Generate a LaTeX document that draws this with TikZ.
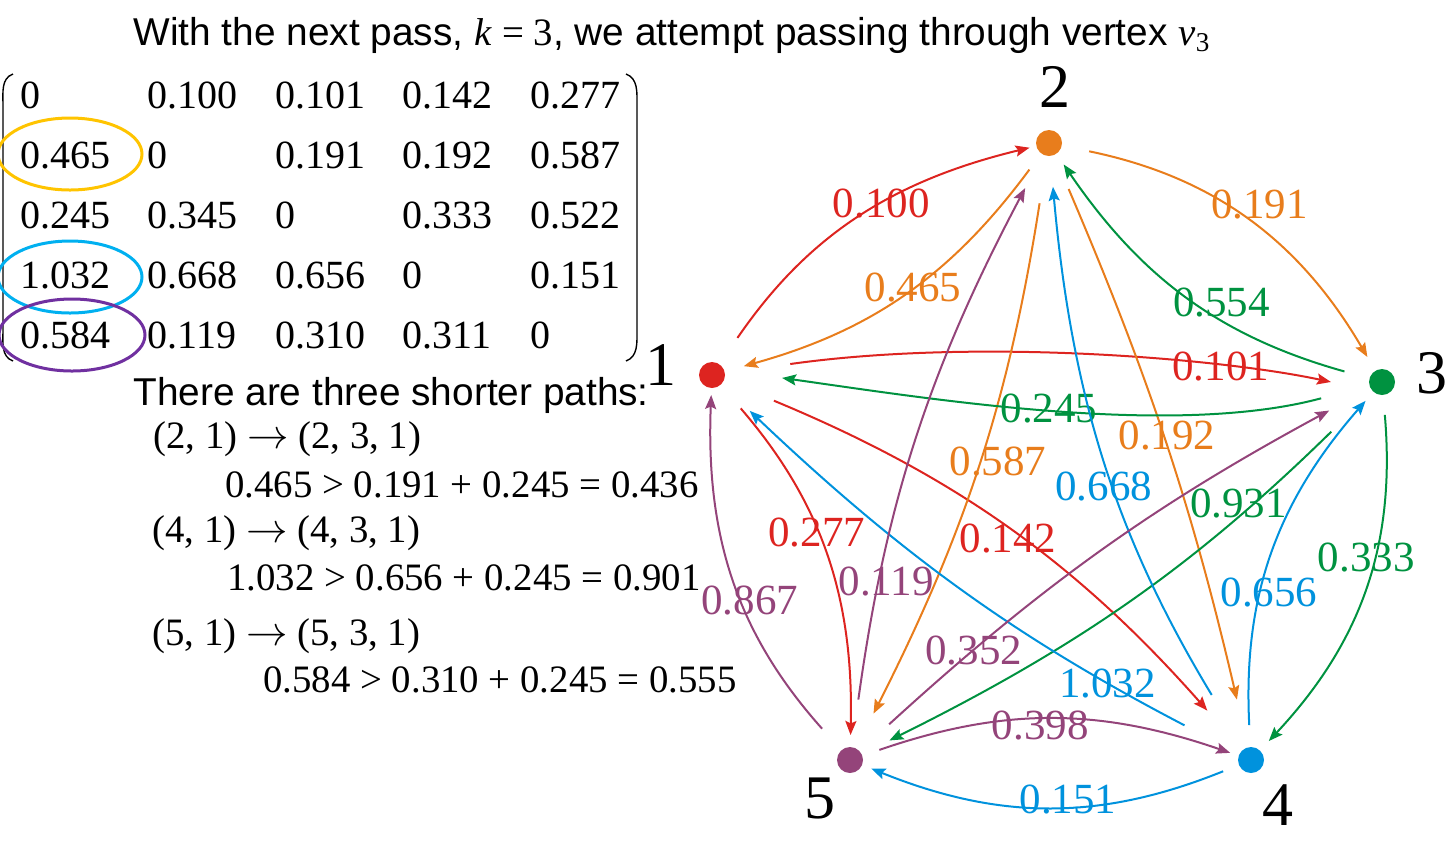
\documentclass[tikz,border=0pt]{standalone}
\usepackage{fontspec}
\setmainfont{Liberation Serif}
\setsansfont{Liberation Sans}
\usepackage{xcolor}
\usepackage{tikz}
\usetikzlibrary{arrows.meta}
\definecolor{cR}{RGB}{221,36,32}
\definecolor{cO}{RGB}{232,125,28}
\definecolor{cG}{RGB}{0,146,64}
\definecolor{cB}{RGB}{0,146,221}
\definecolor{cP}{RGB}{148,68,122}
\definecolor{ringY}{RGB}{255,196,0}
\definecolor{ringB}{RGB}{0,176,240}
\definecolor{ringP}{RGB}{112,48,160}
\begin{document}
\begin{tikzpicture}[
  x=0.5pt, y=0.5pt,
  vtx/.style={circle, minimum size=13pt, inner sep=0pt, outer sep=3.5pt},
  num/.style={anchor=base, inner sep=0pt, font=\fontsize{31}{34}\selectfont},
  entry/.style={anchor=base west, inner sep=0pt, font=\fontsize{20}{24}\selectfont},
  txt/.style={anchor=base west, inner sep=0pt, font=\fontsize{19.4}{23}\selectfont},
  head/.style={anchor=base west, inner sep=0pt, font=\sffamily\fontsize{19.4}{23}\selectfont},
  ring/.style={line width=1.5pt},
  paren/.style={line width=0.7pt},
  arr/.style={-{Stealth[length=7pt, width=5.5pt, inset=1.2pt]}, line width=1pt},
  wt/.style={inner sep=0pt, font=\fontsize{21.5}{24}\selectfont}
]
\useasboundingbox (0,0) rectangle (1456,-848);

\node[head] (title) at (133,-45) {With the next pass, {\rmfamily\itshape k} {\rmfamily= 3}, we attempt passing through vertex {\rmfamily\itshape v}\textsubscript{\rmfamily 3}};

% distance matrix
\foreach \row [count=\i] in {{0,0.100,0.101,0.142,0.277},{0.465,0,0.191,0.192,0.587},{0.245,0.345,0,0.333,0.522},{1.032,0.668,0.656,0,0.151},{0.584,0.119,0.310,0.311,0}} {
  \foreach \val [count=\j] in \row
    \node[entry] (m\i\j) at ({20+127.5*(\j-1)}, {-108-60*(\i-1)}) {\val};
}
\draw[paren] (13,-74) to[out=200, in=90] (3,-105) -- (3,-330) to[out=-90, in=160] (13,-361);
\draw[paren] (626,-74) to[out=-20, in=90] (637,-105) -- (637,-330) to[out=-90, in=20] (626,-361);
\draw[ring, ringY] (70,-154) ellipse [x radius=36pt, y radius=18pt];
\draw[ring, ringB] (70,-277) ellipse [x radius=36pt, y radius=18pt];
\draw[ring, ringP] (72,-335) ellipse [x radius=36.5pt, y radius=18pt];

\node[head] (paths) at (133,-405) {There are three shorter paths:};
\node[txt] (p1) at (153,-448) {(2, 1) $\rightarrow$ (2, 3, 1)};
\node[txt] (q1) at (225,-497) {0.465 > 0.191 + 0.245 = 0.436};
\node[txt] (p2) at (152,-542) {(4, 1) $\rightarrow$ (4, 3, 1)};
\node[txt] (q2) at (227,-590) {1.032 > 0.656 + 0.245 = 0.901};
\node[txt] (p3) at (152,-645) {(5, 1) $\rightarrow$ (5, 3, 1)};
\node[txt] (q3) at (263,-692) {0.584 > 0.310 + 0.245 = 0.555};

% graph
\node[vtx, fill=cR] (v1) at (712,-375) {};
\node[vtx, fill=cO] (v2) at (1049,-143) {};
\node[vtx, fill=cG] (v3) at (1382,-382) {};
\node[vtx, fill=cB] (v4) at (1251,-760) {};
\node[vtx, fill=cP] (v5) at (850,-760) {};
\node[num] (n1) at (661,-385) {1};
\node[num] (n2) at (1055,-107) {2};
\node[num] (n3) at (1432,-393) {3};
\node[num] (n4) at (1278,-825) {4};
\node[num] (n5) at (820,-818) {5};

\draw[arr, cR, shorten <=12.5pt] (v1) to[bend left=21] node[wt, pos=.59] {0.100} (v2);
\draw[arr, cR, shorten <=29.5pt, shorten >=16.5pt] (v1) to[out=8, in=168, in looseness=0.6] node[wt, pos=.72] {0.101} (v3.200);
\draw[arr, cR, shorten <=23.5pt, shorten >=23pt] (v1) to[bend left=13] node[wt, pos=.5, yshift=-4pt] {0.142} (v4);
\draw[arr, cR, shorten <=12pt, shorten >=2.5pt] (v1) to[bend left=21] node[wt, pos=.44] {0.277} (v5);

\draw[arr, cO, shorten <=6.5pt, shorten >=6.5pt] (v2) to[bend left=19] node[wt, pos=.47] {0.465} (v1);
\draw[arr, cO, shorten <=10.5pt, shorten >=4.5pt] (v2) to[bend left=24] node[wt, pos=.46, xshift=12.5pt, yshift=3.5pt] {0.191} (v3);
\draw[arr, cO, shorten <=15pt, shorten >=21pt] (v2) to[bend left=5] node[wt, pos=.48, xshift=2pt] {0.192} (v4);
\draw[arr, cO, shorten <=20.5pt, shorten >=16pt] (v2) to[bend left=9] node[wt, pos=.5, xshift=9.5pt] {0.587} (v5);

\draw[arr, cG, shorten <=21.5pt, shorten >=25.5pt] (v3) to[out=195, in=-8, looseness=0.8] node[wt, pos=.5] {0.245} (v1.12);
\draw[arr, cG, shorten <=9.5pt, shorten >=3pt] (v3) to[bend left=20] node[wt, pos=.48, xshift=13pt] {0.554} (v2);
\draw[arr, cG, shorten <=6.5pt, shorten >=3pt] (v3) to[bend left=24] node[wt, pos=.41, xshift=-4pt] {0.333} (v4);
\draw[arr, cG, shorten <=25.5pt, shorten >=12pt] (v3) to[bend left=9] node[wt, pos=.27, yshift=6pt] {0.931} (v5);

\draw[arr, cB, shorten <=27.5pt, shorten >=16pt] (v4) to[bend left=8] node[wt, pos=.23, xshift=4.5pt, yshift=-3.5pt] {1.032} (v1);
\draw[arr, cB, shorten <=28pt, shorten >=12pt] (v4) to[bend left=13] node[wt, pos=.46, xshift=-5.5pt] {0.668} (v2);
\draw[arr, cB, shorten <=7.5pt, shorten >=2.5pt] (v4) to[bend left=22] node[wt, pos=.39, xshift=4pt] {0.656} (v3);
\draw[arr, cB, shorten <=5pt, shorten >=1.5pt] (v4) to[bend left=22] node[wt, pos=.45, yshift=3.5pt] {0.151} (v5);

\draw[arr, cP, shorten <=11pt] (v5) to[bend left=22] node[wt, pos=.45, xshift=4pt] {0.867} (v1);
\draw[arr, cP, shorten <=20.5pt, shorten >=15.5pt] (v5) to[bend left=10] node[wt, pos=.26, xshift=2.5pt, yshift=-4pt] {0.119} (v2);
\draw[arr, cP, shorten <=16.5pt, shorten >=20pt] (v5) to[bend left=7] node[wt, pos=.22] {0.352} (v3);
\draw[arr, cP, shorten <=5.5pt, shorten >=1pt] (v5) to[bend left=19] node[wt, pos=.47, yshift=-3pt] {0.398} (v4);
\end{tikzpicture}
\end{document}
